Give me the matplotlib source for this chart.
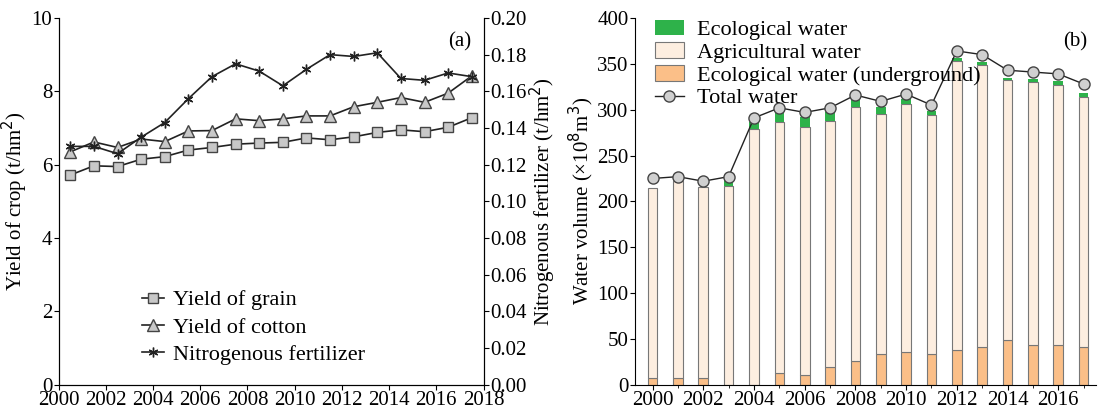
import numpy as np
import matplotlib.pyplot as plt

plt.rcParams['font.family'] = ['Liberation Serif', 'DejaVu Serif']
plt.rcParams['font.size'] = 15

# panel (a)
yrs_a = np.arange(2000.5, 2018, 1.0)
grain = [5.72, 5.97, 5.95, 6.15, 6.22, 6.40, 6.47, 6.56, 6.59, 6.61, 6.73, 6.68, 6.76, 6.88, 6.95, 6.90, 7.02, 7.28]
cotton = [6.35, 6.62, 6.47, 6.70, 6.63, 6.92, 6.93, 7.25, 7.20, 7.25, 7.33, 7.33, 7.58, 7.70, 7.83, 7.70, 7.95, 8.42]
nitro = [0.130, 0.130, 0.126, 0.135, 0.143, 0.156, 0.168, 0.175, 0.171, 0.163, 0.172, 0.180, 0.179, 0.181, 0.167, 0.166, 0.170, 0.168]

# panel (b)
yrs_b = np.arange(2000, 2018)
underground = [7, 8, 8, 0, 0, 13, 11, 20, 26, 34, 36, 34, 38, 41, 49, 44, 44, 41]
bar_top = [215, 222, 216, 217, 279, 287, 281, 288, 303, 295, 306, 294, 353, 349, 332, 330, 327, 314]
eco = [0, 0, 0, 6, 8, 11, 11, 9, 8, 8, 6, 5, 3, 3, 3, 3, 4, 4]
total = [225, 227, 222, 227, 291, 302, 297, 302, 316, 309, 317, 305, 364, 360, 343, 341, 339, 328]
agri = np.array(bar_top) - np.array(underground)

fig = plt.figure(figsize=(11.04, 4.17), dpi=100)
ax1 = fig.add_axes([0.053, 0.077, 0.385, 0.88])
ax2 = ax1.twinx()
l1, = ax1.plot(yrs_a, grain, '-s', color='#222222', mfc='#c8c8c8', mec='#444444', ms=7, lw=1.2, label='Yield of grain')
l2, = ax1.plot(yrs_a, cotton, '-^', color='#222222', mfc='#c8c8c8', mec='#444444', ms=8, lw=1.2, label='Yield of cotton')
l3, = ax2.plot(yrs_a, nitro, '-', marker=(6, 2, 0), color='#222222', ms=7, lw=1.2, label='Nitrogenous fertilizer')
ax1.set_xlim(2000, 2018)
ax1.set_ylim(0, 10)
ax2.set_ylim(0, 0.2)
ax1.set_xticks(range(2000, 2019, 2))
ax1.set_yticks(range(0, 11, 2))
ax2.set_yticks(np.arange(0, 0.201, 0.02))
ax2.set_yticklabels([f'{v:.2f}' for v in np.arange(0, 0.201, 0.02)])
ax1.set_ylabel('Yield of crop (t/hm$^2$)', labelpad=1)
ax2.set_ylabel('Nitrogenous fertilizer (t/hm$^2$)', labelpad=1)
for a in (ax1, ax2):
    a.spines['top'].set_visible(False)
    a.tick_params(direction='out', pad=1)
ax1.text(0.97, 0.96, '(a)', transform=ax1.transAxes, ha='right', va='top')
ax1.legend(handles=[l1, l2, l3], loc='lower left', bbox_to_anchor=(0.15, 0.0), frameon=False,
           handlelength=1.0, handletextpad=0.4, labelspacing=0.3, fontsize=16)

ax3 = fig.add_axes([0.575, 0.077, 0.418, 0.88])
w = 0.38
b_und = ax3.bar(yrs_b, underground, w, color='#fbbf88', edgecolor='#777777', lw=0.8)
b_agr = ax3.bar(yrs_b, agri, w, bottom=underground, color='#fdeee0', edgecolor='#777777', lw=0.8)
b_eco = ax3.bar(yrs_b, eco, w, bottom=bar_top, color='#2eb24a', edgecolor='none')
l_tot, = ax3.plot(yrs_b, total, '-o', color='#222222', mfc='#d0d0d0', mec='#444444', ms=8, lw=1.0)
ax3.set_xlim(1999.3, 2017.5)
ax3.set_ylim(0, 400)
ax3.set_xticks(range(2000, 2017, 2))
ax3.set_xticks(range(2000, 2018), minor=True)
ax3.set_yticks(range(0, 401, 50))
ax3.set_ylabel('Water volume (×10$^8$m$^3$)', labelpad=1)
ax3.spines['top'].set_visible(False)
ax3.spines['right'].set_visible(False)
ax3.tick_params(direction='out', pad=1)
ax3.text(0.98, 0.96, '(b)', transform=ax3.transAxes, ha='right', va='top')
ax3.legend([b_eco, b_agr, b_und, l_tot],
           ['Ecological water', 'Agricultural water', 'Ecological water (underground)', 'Total water'],
           loc='upper left', bbox_to_anchor=(0.0, 1.05), frameon=False, fontsize=16,
           handlelength=1.3, handletextpad=0.6, labelspacing=0.1)

fig.savefig('out.png', dpi=100)
